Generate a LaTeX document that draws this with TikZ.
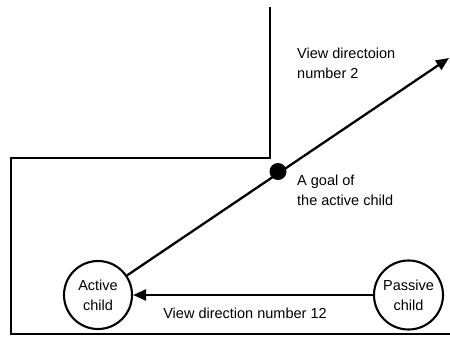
\documentclass[tikz,border=0pt]{standalone}
\usepackage{fontspec}
\setmainfont{Liberation Sans}
\usetikzlibrary{arrows.meta}
\begin{document}
\begin{tikzpicture}[x=1pt,y=-1pt,
  wall/.style={line width=2.4pt},
  child/.style={circle,draw,line width=2.1pt,inner sep=0pt,align=center,
    font=\fontsize{14.5}{20}\selectfont},
  label/.style={align=left,inner sep=0pt,font=\fontsize{14.5}{20}\selectfont},
  view/.style={line width=2.3pt,-{Triangle[length=13pt,width=11pt]}},
  goaldot/.style={circle,fill,inner sep=0pt,minimum size=17pt}]
  \useasboundingbox (0,0) rectangle (450,338);
  % walls of the room
  \draw[wall] (270,7) -- (270,158) -- (11,158) -- (11,334) -- (450,334);
  % the two children
  \node[child,minimum size=68pt] (active) at (98,295) {Active\\child};
  \node[child,minimum size=69pt] (passive) at (408.5,295) {Passive\\child};
  \coordinate (tip) at (449,58);
  % view directions
  \draw[view] (active) -- (tip);
  \draw[view] (passive) -- (active);
  \node[goaldot] (goal) at (278,171.5) {};
  % labels
  \node[label,anchor=west] (l2) at (297,63) {View directoion\\number 2};
  \node[label,anchor=west] (lg) at (297,190) {A goal of\\the active child};
  \node[label] (l12) at (245,313) {View direction number 12};
\end{tikzpicture}
\end{document}
